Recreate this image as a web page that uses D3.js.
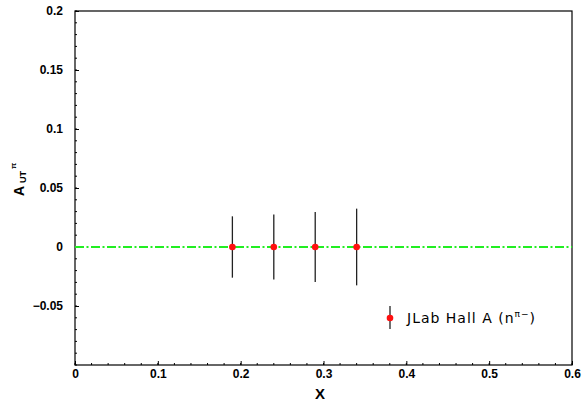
<!DOCTYPE html>
<meta charset="utf-8">
<style>
body { margin: 0; background: #fff; }
svg { font-family: "Liberation Sans", Arial, sans-serif; }
.tick text { font-weight: bold; font-size: 12px; }
</style>
<body>
<svg width="582" height="409"></svg>
<script src="https://d3js.org/d3.v7.min.js"></script>
<script>
// JLab Hall A points (x, asymmetry, stat error)
var xs = [0.19, 0.24, 0.29, 0.34];
var asym = [0, 0, 0, 0];
var errs = [0.026, 0.0275, 0.0297, 0.0325];
var xTicks = [0, 0.1, 0.2, 0.3, 0.4, 0.5, 0.6];
var yTicks = [-0.05, 0, 0.05, 0.1, 0.15, 0.2];
var legendLabel = "JLab Hall A (n";

var svg = d3.select("svg");
var margin = {left: 75, right: 10, top: 11, bottom: 44};
var width = 582 - margin.left - margin.right,
    height = 409 - margin.top - margin.bottom;

var x = d3.scaleLinear().domain([0, 0.6]).range([0, width]);
var y = d3.scaleLinear().domain([-0.1, 0.2]).range([height, 0]);

var g = svg.append("g").attr("transform", "translate(" + margin.left + "," + margin.top + ")");

// frame
g.append("rect")
    .attr("width", width).attr("height", height)
    .attr("fill", "none").attr("stroke", "#000").attr("stroke-width", 1.2);

// minor ticks
g.selectAll(".xminor")
    .data(d3.range(0, 0.6001, 0.02))
  .enter().append("line")
    .attr("x1", function(d) { return x(d); }).attr("x2", function(d) { return x(d); })
    .attr("y1", height).attr("y2", height - 2)
    .attr("stroke", "#000");
g.selectAll(".yminor")
    .data(d3.range(-0.1, 0.2001, 0.01))
  .enter().append("line")
    .attr("x1", 0).attr("x2", 2)
    .attr("y1", function(d) { return y(d); }).attr("y2", function(d) { return y(d); })
    .attr("stroke", "#000");

var xAxis = g.append("g")
    .attr("transform", "translate(0," + height + ")")
    .call(d3.axisBottom(x).tickValues(xTicks).tickSizeInner(-4).tickSizeOuter(0)
      .tickFormat(function(d) { return d === 0 ? "0" : d3.format(".1f")(d); }));
xAxis.select(".domain").remove();
xAxis.selectAll(".tick text").attr("dy", "0.71em").attr("y", 4);

var yAxis = g.append("g")
    .call(d3.axisLeft(y).tickValues(yTicks).tickSizeInner(-4).tickSizeOuter(0)
      .tickFormat(function(d) { return d === 0 ? "0" : String(+d.toFixed(2)).replace("-", "\u2212"); }));
yAxis.select(".domain").remove();
yAxis.selectAll(".tick text").attr("x", -12);

// zero line
g.append("line")
    .attr("x1", x(0)).attr("x2", x(0.6))
    .attr("y1", y(0)).attr("y2", y(0))
    .attr("stroke", "#22ee22").attr("stroke-width", 2)
    .attr("stroke-dasharray", "9,2.5,2,2.5");

// error bars
g.selectAll(".err")
    .data(xs)
  .enter().append("line")
    .attr("x1", function(d) { return x(d); }).attr("x2", function(d) { return x(d); })
    .attr("y1", function(d, i) { return y(asym[i] + errs[i]); })
    .attr("y2", function(d, i) { return y(asym[i] - errs[i]); })
    .attr("stroke", "#222").attr("stroke-width", 1.3);

g.selectAll(".pt")
    .data(xs)
  .enter().append("circle")
    .attr("cx", function(d) { return x(d); })
    .attr("cy", function(d, i) { return y(asym[i]); })
    .attr("r", 3.3)
    .attr("fill", "#ff1010");

// legend
var lg = svg.append("g").attr("transform", "translate(390,318)");
lg.append("line").attr("y1", -12).attr("y2", 11).attr("stroke", "#222").attr("stroke-width", 1.3);
lg.append("circle").attr("r", 3.3).attr("fill", "#ff1010");
var lt = lg.append("text")
    .attr("x", 17).attr("y", 5)
    .style("font-family", "'DejaVu Sans', sans-serif")
    .style("font-size", "14px")
    .style("letter-spacing", "1px")
    .text(legendLabel);
lt.append("tspan").attr("dy", -6).style("font-size", "9px").text("\u03c0\u2212");
lt.append("tspan").attr("dy", 6).text(")");

// axis titles
svg.append("text")
    .attr("x", 320).attr("y", 399)
    .attr("text-anchor", "middle")
    .style("font-weight", "bold").style("font-size", "15px")
    .text("X");

var ylg = svg.append("g").attr("transform", "translate(24,196) rotate(-90)");
var yl = ylg.append("text")
    .style("font-weight", "bold").style("font-size", "14px")
    .text("A");
yl.append("tspan").attr("dy", 1.5).attr("dx", 3).style("font-size", "9px").text("UT");
yl.append("tspan").attr("dy", -9.5).attr("dx", 2).style("font-size", "8px").text("\u03c0");
</script>
</body>
